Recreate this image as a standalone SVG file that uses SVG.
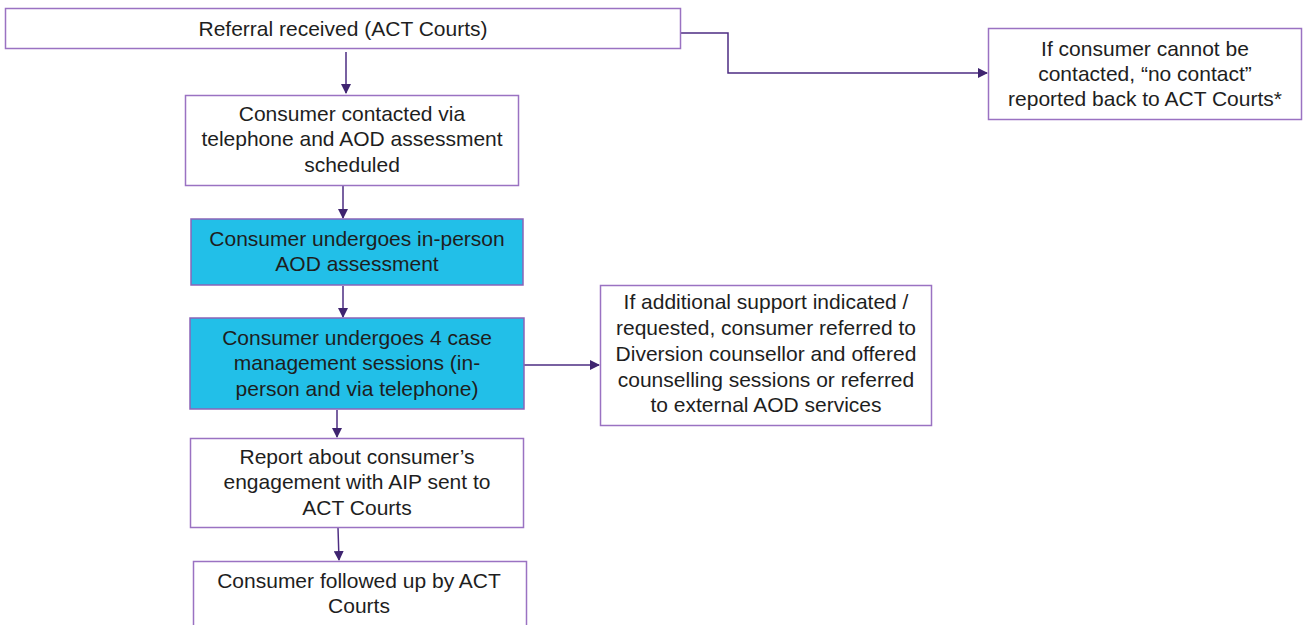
<svg xmlns="http://www.w3.org/2000/svg" width="1313" height="625" viewBox="0 0 1313 625">
  <style>
    .box { fill: #ffffff; stroke: #9a72c2; stroke-width: 1.5; }
    .hi { fill: #22bfe8; stroke: #8a64b8; stroke-width: 1.5; }
    .lbl { font-family: "Liberation Sans", Arial, sans-serif; font-size: 21px; fill: #1e1e1e; text-anchor: middle; }
    .edge { fill: none; stroke: #4d2d82; stroke-width: 1.5; marker-end: url(#arrow); }
  </style>
  <defs>
    <marker id="arrow" viewBox="0 0 10 10" refX="9" refY="5" markerWidth="10" markerHeight="10" markerUnits="userSpaceOnUse" orient="auto">
      <path d="M0,0 L10,5 L0,10 z" fill="#3f2470"/>
    </marker>
  </defs>

  <rect width="1313" height="625" fill="#ffffff"/>

  <g id="connectors">
    <path class="edge" d="M680,33 H728 V73 H987"/>
    <path class="edge" d="M346,52 V93"/>
    <path class="edge" d="M343,186 V218"/>
    <path class="edge" d="M343,286 V317"/>
    <path class="edge" d="M524,365 H599"/>
    <path class="edge" d="M337,410 V437"/>
    <path class="edge" d="M338,528 L339,560"/>
  </g>

  <g id="referral">
    <rect class="box" x="5.5" y="8.5" width="675" height="40"/>
    <text class="lbl" x="343" y="36">Referral received (ACT Courts)</text>
  </g>

  <g id="no-contact">
    <rect class="box" x="988.5" y="28.5" width="313" height="91"/>
    <text class="lbl" x="1145" y="56">If consumer cannot be</text>
    <text class="lbl" x="1145" y="81">contacted, “no contact”</text>
    <text class="lbl" x="1145" y="106">reported back to ACT Courts*</text>
  </g>

  <g id="contacted">
    <rect class="box" x="185.5" y="95.5" width="333" height="90"/>
    <text class="lbl" x="352" y="121">Consumer contacted via</text>
    <text class="lbl" x="352" y="146">telephone and AOD assessment</text>
    <text class="lbl" x="352" y="172">scheduled</text>
  </g>

  <g id="assessment">
    <rect class="hi" x="191" y="219" width="332" height="66"/>
    <text class="lbl" x="357" y="246">Consumer undergoes in-person</text>
    <text class="lbl" x="357" y="271">AOD assessment</text>
  </g>

  <g id="case-management">
    <rect class="hi" x="190" y="318" width="334" height="91"/>
    <text class="lbl" x="357" y="345">Consumer undergoes 4 case</text>
    <text class="lbl" x="357" y="370">management sessions (in-</text>
    <text class="lbl" x="357" y="396">person and via telephone)</text>
  </g>

  <g id="additional-support">
    <rect class="box" x="600.5" y="285.5" width="331" height="140"/>
    <text class="lbl" x="766" y="309">If additional support indicated /</text>
    <text class="lbl" x="766" y="335">requested, consumer referred to</text>
    <text class="lbl" x="766" y="361">Diversion counsellor and offered</text>
    <text class="lbl" x="766" y="387">counselling sessions or referred</text>
    <text class="lbl" x="766" y="412">to external AOD services</text>
  </g>

  <g id="report">
    <rect class="box" x="190.5" y="438.5" width="333" height="89"/>
    <text class="lbl" x="357" y="464">Report about consumer’s</text>
    <text class="lbl" x="357" y="489">engagement with AIP sent to</text>
    <text class="lbl" x="357" y="515">ACT Courts</text>
  </g>

  <g id="follow-up">
    <rect class="box" x="193.5" y="561.5" width="333" height="70"/>
    <text class="lbl" x="359" y="588">Consumer followed up by ACT</text>
    <text class="lbl" x="359" y="613">Courts</text>
  </g>
</svg>
